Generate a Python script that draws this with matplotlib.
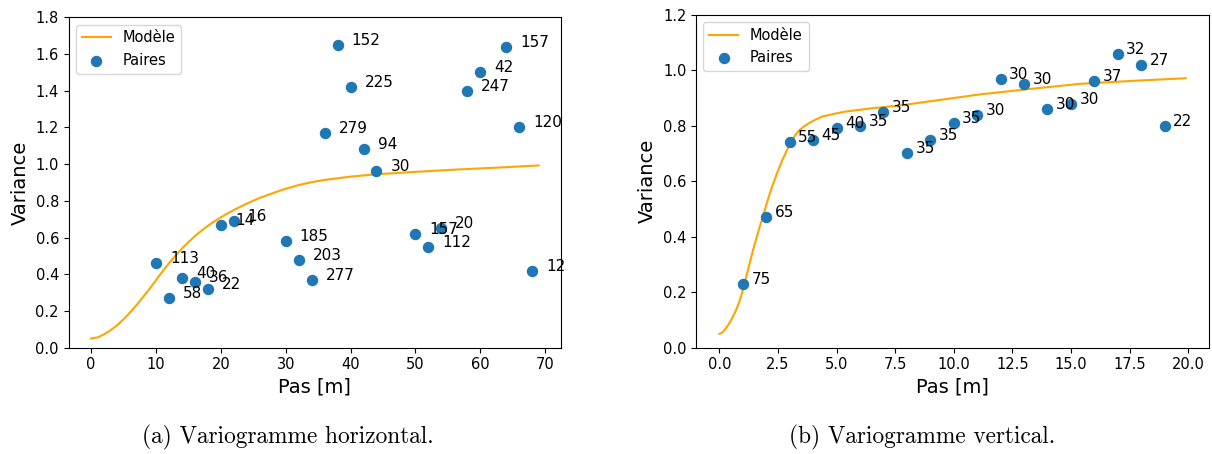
import matplotlib
matplotlib.use("Agg")
import matplotlib.pyplot as plt

# variogramme horizontal : pas [m], variance experimentale, nombre de paires
h_pas = [10, 12, 14, 16, 18, 20, 22, 30, 32, 34, 36, 38, 40, 42, 44,
         50, 52, 54, 58, 60, 64, 66, 68]
h_var = [0.46, 0.27, 0.38, 0.36, 0.32, 0.67, 0.69, 0.58, 0.48, 0.37, 1.17,
         1.65, 1.42, 1.08, 0.96, 0.62, 0.55, 0.65, 1.40, 1.50, 1.64, 1.20, 0.42]
h_paires = [113, 58, 40, 36, 22, 14, 16, 185, 203, 277, 279, 152, 225, 94,
            30, 157, 112, 20, 247, 42, 157, 120, 12]

# modele ajuste (horizontal)
h_mod_x = [0, 1, 2, 3, 4, 5, 6, 7, 8, 9, 10, 11, 12, 13, 14, 15, 16, 17, 18,
           19, 20, 21, 22, 23, 24, 25, 26, 28, 30, 32, 34, 36, 40, 44, 50,
           56, 62, 69]
h_mod_y = [0.05, 0.056, 0.073, 0.095, 0.122, 0.155, 0.192, 0.232, 0.276,
           0.32, 0.368, 0.415, 0.46, 0.50, 0.54, 0.575, 0.608, 0.637, 0.664,
           0.688, 0.71, 0.731, 0.75, 0.768, 0.785, 0.801, 0.816, 0.842, 0.866,
           0.886, 0.902, 0.914, 0.932, 0.945, 0.958, 0.97, 0.98, 0.993]

# variogramme vertical
v_pas = [1, 2, 3, 4, 5, 6, 7, 8, 9, 10, 11, 12, 13, 14, 15, 16, 17, 18, 19]
v_var = [0.23, 0.47, 0.74, 0.75, 0.79, 0.80, 0.85, 0.70, 0.75, 0.81, 0.84,
         0.97, 0.95, 0.86, 0.88, 0.96, 1.06, 1.02, 0.80]
v_paires = [75, 65, 55, 45, 40, 35, 35, 35, 35, 35, 30, 30, 30, 30, 30, 37,
            32, 27, 22]

# modele ajuste (vertical)
v_mod_x = [0, 0.13, 0.26, 0.4, 0.54, 0.68, 0.83, 0.97, 1.11, 1.25, 1.40,
           1.54, 1.68, 1.82, 1.96, 2.1, 2.25, 2.4, 2.54, 2.68, 2.82, 2.96,
           3.10, 3.25, 3.39, 3.6, 3.82, 4.1, 4.39, 4.9, 5.38, 6.52, 7.8, 9.5,
           11.13, 13.3, 15.4, 17.7, 19.9]
v_mod_y = [0.05, 0.055, 0.068, 0.085, 0.106, 0.13, 0.16, 0.198, 0.244,
           0.29, 0.34, 0.383, 0.424, 0.463, 0.502, 0.542, 0.58, 0.615, 0.646,
           0.675, 0.70, 0.726, 0.748, 0.767, 0.782, 0.797, 0.809, 0.822,
           0.833, 0.843, 0.851, 0.863, 0.874, 0.894, 0.913, 0.933, 0.951,
           0.962, 0.971]

fig = plt.figure(figsize=(12.12, 4.54), dpi=100)
ax1 = fig.add_axes([0.0567, 0.2341, 0.4062, 0.7278])
ax2 = fig.add_axes([0.5743, 0.2341, 0.4233, 0.7335])


def variogramme(ax, mx, my, px, py, npaires, dx, ymax):
    ax.plot(mx, my, color='orange', lw=1.5, label='Modèle')
    ax.scatter(px, py, s=52, color='#1f77b4', label='Paires', zorder=3)
    for x, y, n in zip(px, py, npaires):
        ax.annotate(str(n), (x, y), xytext=(dx, 0), textcoords='offset pixels',
                    fontsize=11)
    ax.set_ylim(0, ymax)
    ax.set_xlabel('Pas [m]', fontsize=14)
    ax.set_ylabel('Variance', fontsize=14)
    ax.tick_params(labelsize=10.5)
    ax.legend(loc='upper left', fontsize=10.5)


variogramme(ax1, h_mod_x, h_mod_y, h_pas, h_var, h_paires, 14, 1.8)
variogramme(ax2, v_mod_x, v_mod_y, v_pas, v_var, v_paires, 8.5, 1.2)

fig.text(287.5 / 1212, 0.037, '(a) Variogramme horizontal.', family='cmr10',
         fontsize=16.8, ha='center', va='center')
fig.text(922 / 1212, 0.037, '(b) Variogramme vertical.', family='cmr10',
         fontsize=16.8, ha='center', va='center')

fig.savefig('out.png', dpi=100)
